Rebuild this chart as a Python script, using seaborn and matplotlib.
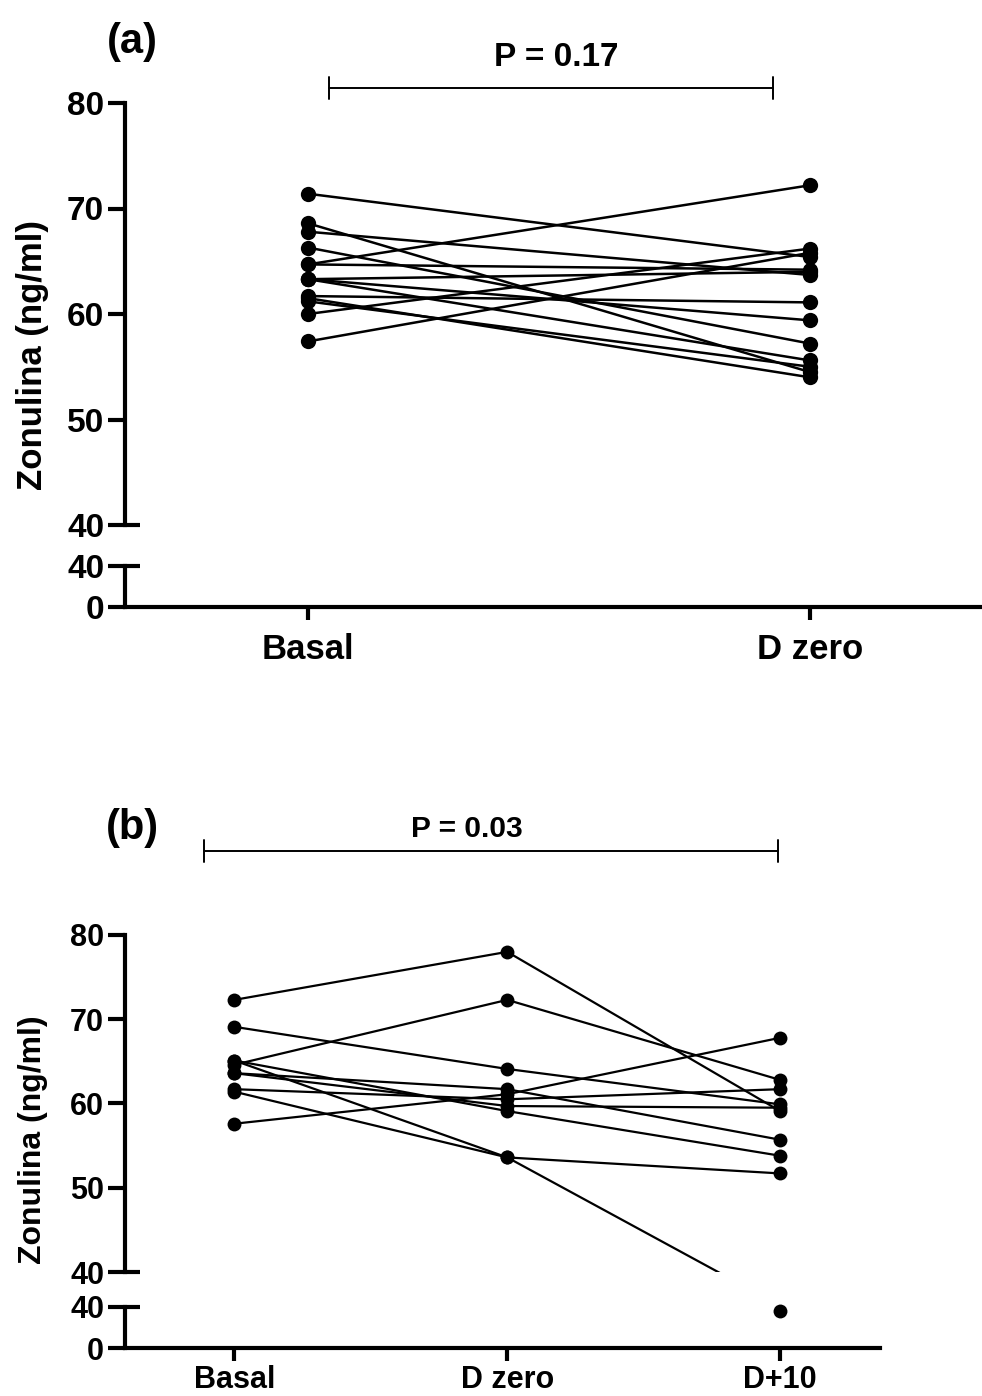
import numpy as np
import pandas as pd
import matplotlib
matplotlib.use("Agg")
import matplotlib.pyplot as plt
import matplotlib.transforms as mtransforms
from matplotlib.lines import Line2D
import seaborn as sns

sns.set_theme(style="white")
plt.rcParams['font.family'] = ['Liberation Sans', 'DejaVu Sans']
plt.rcParams['font.weight'] = 'bold'
plt.rcParams['text.color'] = 'black'
plt.rcParams['axes.labelcolor'] = 'black'
plt.rcParams['xtick.color'] = 'black'
plt.rcParams['ytick.color'] = 'black'

# ---------------- data ----------------
cats_a = ["Basal", "D zero"]
basal_a = [71.4, 68.6, 67.8, 66.3, 64.7, 64.7, 63.3, 63.3, 63.3, 61.7, 61.5, 61.2, 60.0, 57.4]
dzero_a = [65.4, 54.5, 63.7, 57.2, 72.2, 64.2, 64.0, 55.6, 59.4, 61.1, 54.0, 55.0, 66.2, 65.8]

cats_b = ["Basal", "D zero", "D+10"]
basal_b = [72.3, 69.1, 64.6, 65.1, 61.4, 63.6, 57.6, 61.7, 65.1, 63.6]
dzero_b = [78.0, 64.1, 72.3, 53.6, 53.6, 61.7, 61.1, 60.5, 59.1, 59.7]
d10_b = [59.1, 59.9, 62.8, 36.0, 51.7, 55.7, 67.8, 61.7, 53.8, 59.5]

yticks_upper = [40, 50, 60, 70, 80]
yticks_lower = [0, 40]
ylabel = "Zonulina (ng/ml)"
panel_a, panel_b = "(a)", "(b)"
p_a, p_b = "P = 0.17", "P = 0.03"


def long_form(cats, series):
    rows = []
    for s in range(len(series[0])):
        for i, vals in enumerate(series):
            rows.append({"subject": s, "pos": i, "time": cats[i], "value": vals[s]})
    return pd.DataFrame(rows)


df_a = long_form(cats_a, [basal_a, dzero_a])
df_b = long_form(cats_b, [basal_b, dzero_b, d10_b])

W, H = 982, 1396
fig = plt.figure(figsize=(W / 100, H / 100), dpi=100)


def rect(x0, x1, ytop, ybot):
    return [x0 / W, 1 - ybot / H, (x1 - x0) / W, (ybot - ytop) / H]


SPW = 3.0  # spine width (pt)
TL = 12    # tick length (pt)


def setup_pair(ax_up, ax_lo, df, cats, xlim, ytick_fs, xtick_fs, lw, ms, xpad):
    sns.lineplot(data=df, x="pos", y="value", units="subject", estimator=None,
                 sort=False, color="black", linewidth=lw, marker="o",
                 markersize=ms, markeredgewidth=0, legend=False, ax=ax_up)
    low = df[df["value"] < 40]
    sns.scatterplot(data=low, x="pos", y="value", color="black", s=ms ** 2,
                    linewidth=0, legend=False, ax=ax_lo, clip_on=False)
    for ax in (ax_up, ax_lo):
        ax.set_xlim(*xlim)
        ax.set_xlabel("")
        ax.set_ylabel("")
        for sp in ("top", "right"):
            ax.spines[sp].set_visible(False)
        ax.spines["left"].set_linewidth(SPW)
        ax.spines["left"].set_color("black")
        ax.tick_params(axis="y", direction="out", length=TL, width=SPW,
                       labelsize=ytick_fs, pad=3, colors="black", left=True)
        ax.set_facecolor("none")
    ax_up.set_ylim(40, 80)
    ax_up.set_yticks(yticks_upper)
    ax_up.spines["bottom"].set_visible(False)
    ax_up.set_xticks([])
    ax_lo.set_ylim(0, 40)
    ax_lo.set_yticks(yticks_lower)
    ax_lo.spines["bottom"].set_linewidth(SPW)
    ax_lo.spines["bottom"].set_color("black")
    ax_lo.set_xticks(range(len(cats)))
    ax_lo.set_xticklabels(cats)
    ax_lo.tick_params(axis="x", direction="out", length=9, width=SPW,
                      labelsize=xtick_fs, pad=xpad, colors="black", bottom=True)
    for lab in ax_lo.get_xticklabels() + ax_lo.get_yticklabels() + ax_up.get_yticklabels():
        lab.set_fontweight("bold")
    # break caps (right half of the 40 ticks)
    for ax in (ax_up, ax_lo):
        wpx = ax.get_position().width * W
        frac = 15 / wpx
        tr = mtransforms.blended_transform_factory(ax.transAxes, ax.transData)
        ax.plot([0, frac], [40, 40], transform=tr, color="black", lw=SPW,
                clip_on=False, solid_capstyle="butt")


a_up = fig.add_axes(rect(125, 980, 103, 525))
a_lo = fig.add_axes(rect(125, 980, 566, 607))
setup_pair(a_up, a_lo, df_a, cats_a, (-0.3645, 1.339), 24, 25, 1.8, 11, 10)

b_up = fig.add_axes(rect(125, 880, 935, 1272))
b_lo = fig.add_axes(rect(125, 880, 1307, 1348))
setup_pair(b_up, b_lo, df_b, cats_b, (-0.4007, 2.366), 22, 22, 1.6, 10, 3.5)

# y labels
fig.text(33 / W, 1 - 355 / H, ylabel, rotation=90, ha="center", va="center",
         fontsize=25, fontweight="bold", color="black")
fig.text(33 / W, 1 - 1140 / H, ylabel, rotation=90, ha="center", va="center",
         fontsize=23, fontweight="bold", color="black")

# panel letters
fig.text(132 / W, 1 - 42 / H, panel_a, ha="center", va="center", fontsize=30,
         fontweight="bold", color="black")
fig.text(132 / W, 1 - 828 / H, panel_b, ha="center", va="center", fontsize=30,
         fontweight="bold", color="black")


def bracket(x0, x1, y, text, tx, ty, fs):
    fig.add_artist(Line2D([x0 / W, x1 / W], [1 - y / H] * 2, color="black", lw=1.4))
    for x in (x0, x1):
        fig.add_artist(Line2D([x / W] * 2, [1 - (y - 11) / H, 1 - (y + 11) / H],
                              color="black", lw=1.4))
    fig.text(tx / W, 1 - ty / H, text, ha="center", va="center", fontsize=fs,
             fontweight="bold", color="black")


bracket(329, 773, 88, p_a, 556, 58, 24)
bracket(204, 778, 851, p_b, 467, 829, 21.5)

fig.savefig("out.png", dpi=100)
